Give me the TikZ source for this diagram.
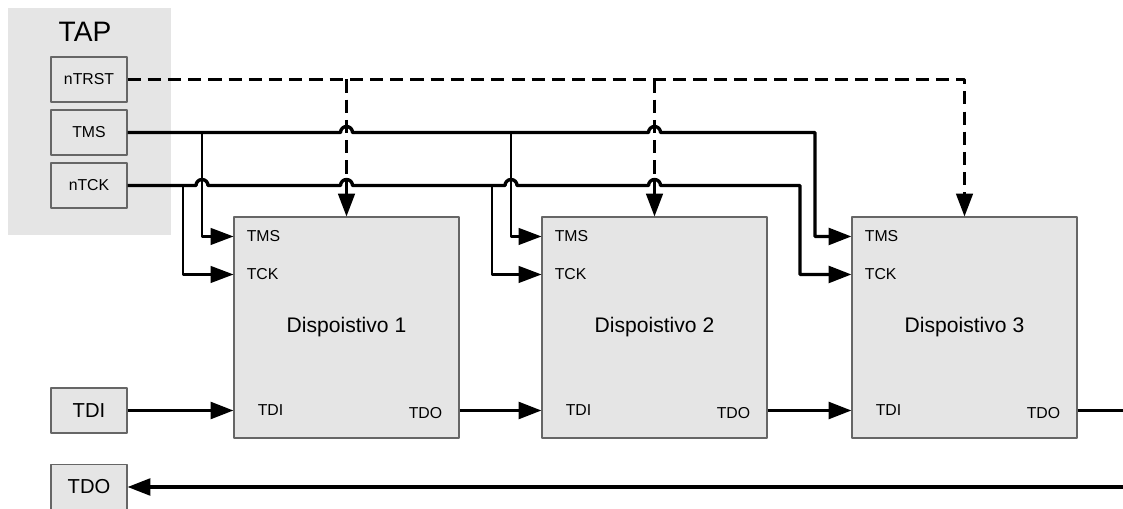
\documentclass[tikz,border=0pt]{standalone}
\usepackage{fontspec}
\setmainfont{Liberation Sans}
\usetikzlibrary{arrows.meta,calc}

\begin{document}
\begin{tikzpicture}[>={Triangle[length=13pt,width=9.5pt]},line join=bevel,
  tapbox/.style={draw=black!60,fill=black!10,line width=0.6pt,minimum width=1.52cm,minimum height=0.9cm,inner sep=0pt,font=\fontsize{9}{10}\selectfont},
  iobox/.style={tapbox,font=\fontsize{11.5}{13}\selectfont},
  devbox/.style={draw=black!60,fill=black!10,line width=0.6pt,minimum width=4.5cm,minimum height=4.42cm,font=\fontsize{12}{14}\selectfont},
  port/.style={inner sep=0pt,font=\fontsize{9}{10}\selectfont},
  wire/.style={line width=1.9pt},
  branch/.style={line width=1.2pt},
  reset/.style={line width=1.4pt,dash pattern=on 7.5pt off 4pt}]
%%
  \useasboundingbox (0,0) rectangle (22.46,10.16);
  \fill [black!10] (0.16,5.46) rectangle (3.42,10.0);
  \node (tap) at (1.70,9.52) [font=\fontsize{16}{18}\selectfont] {TAP};
  \node (trst) at (1.78,8.57) [tapbox] {nTRST};
  \node (tms) at (1.78,7.51) [tapbox] {TMS};
  \node (tck) at (1.78,6.45) [tapbox] {nTCK};
  \node (tdi) at (1.78,1.95) [iobox] {TDI};
  \node (tdo) at (1.78,0.42) [iobox] {TDO};

  \node (dev1) at (6.93,3.61) [devbox] {Dispoistivo 1};
  \node (dev2) at (13.09,3.61) [devbox] {Dispoistivo 2};
  \node (dev3) at (19.29,3.61) [devbox] {Dispoistivo 3};

  \coordinate (d1ms) at ($(dev1.north west)+(0,-0.40)$);
  \coordinate (d1ck) at ($(dev1.north west)+(0,-1.16)$);
  \coordinate (d2ms) at ($(dev2.north west)+(0,-0.40)$);
  \coordinate (d2ck) at ($(dev2.north west)+(0,-1.16)$);
  \coordinate (d3ms) at ($(dev3.north west)+(0,-0.40)$);
  \coordinate (d3ck) at ($(dev3.north west)+(0,-1.16)$);
  \coordinate (ms1) at (4.04,0);
  \coordinate (ck1) at (3.66,0);
  \coordinate (ms2) at (10.22,0);
  \coordinate (ck2) at (9.84,0);
  \coordinate (ms3) at (16.30,0);
  \coordinate (ck3) at (16.00,0);
  \coordinate (tdoout) at (22.46,1.95);
  \coordinate (tdoin) at (22.46,0.42);

  \node (d1mslbl) at ($(d1ms)+(0.26,0)$) [port,anchor=west] {TMS};
  \node (d1cklbl) at ($(d1ck)+(0.26,0)$) [port,anchor=west] {TCK};
  \node (d1dilbl) at ($(dev1.west |- tdi.east)+(0.48,0)$) [port,anchor=west] {TDI};
  \node (d1dolbl) at ($(dev1.east |- tdi.east)+(-0.34,-0.06)$) [port,anchor=east] {TDO};
  \node (d2mslbl) at ($(d2ms)+(0.26,0)$) [port,anchor=west] {TMS};
  \node (d2cklbl) at ($(d2ck)+(0.26,0)$) [port,anchor=west] {TCK};
  \node (d2dilbl) at ($(dev2.west |- tdi.east)+(0.48,0)$) [port,anchor=west] {TDI};
  \node (d2dolbl) at ($(dev2.east |- tdi.east)+(-0.34,-0.06)$) [port,anchor=east] {TDO};
  \node (d3mslbl) at ($(d3ms)+(0.26,0)$) [port,anchor=west] {TMS};
  \node (d3cklbl) at ($(d3ck)+(0.26,0)$) [port,anchor=west] {TCK};
  \node (d3dilbl) at ($(dev3.west |- tdi.east)+(0.48,0)$) [port,anchor=west] {TDI};
  \node (d3dolbl) at ($(dev3.east |- tdi.east)+(-0.34,-0.06)$) [port,anchor=east] {TDO};

  % reset
  \draw [reset,->] (trst.east) -| (dev3.north);
  \draw [reset,->] (trst.east -| dev1.north) -- (dev1.north);
  \draw [reset,->] (trst.east -| dev2.north) -- (dev2.north);
  % TMS
  \draw [wire,->] (tms.east) -- ($(tms.east -| dev1.north)-(0.12,0)$) arc [start angle=180,end angle=0,radius=0.12]
    -- ($(tms.east -| dev2.north)-(0.12,0)$) arc [start angle=180,end angle=0,radius=0.12]
    -- (tms.east -| ms3) |- (d3ms);
  \draw [branch,->] (tms.east -| ms1) |- (d1ms);
  \draw [branch,->] (tms.east -| ms2) |- (d2ms);
  % TCK
  \draw [wire,->] (tck.east) -- ($(tck.east -| ms1)-(0.12,0)$) arc [start angle=180,end angle=0,radius=0.12]
    -- ($(tck.east -| dev1.north)-(0.12,0)$) arc [start angle=180,end angle=0,radius=0.12]
    -- ($(tck.east -| ms2)-(0.12,0)$) arc [start angle=180,end angle=0,radius=0.12]
    -- ($(tck.east -| dev2.north)-(0.12,0)$) arc [start angle=180,end angle=0,radius=0.12]
    -- (tck.east -| ck3) |- (d3ck);
  \draw [branch,->] (tck.east -| ck1) |- (d1ck);
  \draw [branch,->] (tck.east -| ck2) |- (d2ck);
  % data chain
  \draw [wire,->] (tdi.east) -- (tdi.east -| dev1.west);
  \draw [wire,->] (dev1.east |- tdi.east) -- (dev2.west |- tdi.east);
  \draw [wire,->] (dev2.east |- tdi.east) -- (dev3.west |- tdi.east);
  \draw [wire] (dev3.east |- tdoout) -- (tdoout);
  \draw [wire,->] (tdoin) -- (tdo.east);
%
\end{tikzpicture}
\end{document}
